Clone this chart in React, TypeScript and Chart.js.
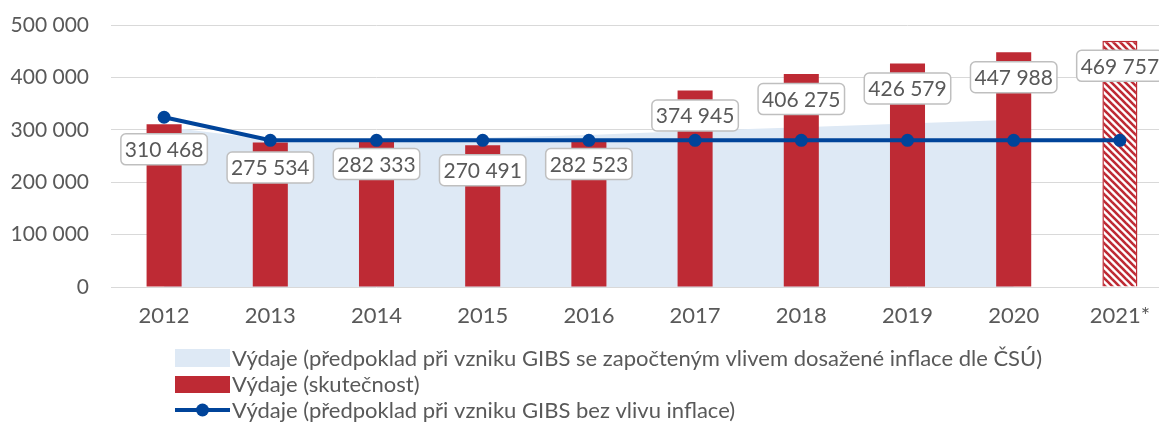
import React, { useEffect, useRef } from 'react';
import { Chart, registerables } from 'chart.js';

Chart.register(...registerables);

const categories = ['2012', '2013', '2014', '2015', '2016', '2017', '2018', '2019', '2020', '2021*'];
const actualSpending = [310468, 275534, 282333, 270491, 282523, 374945, 406275, 426579, 447988, 469757];
const forecastWithInflation = [306000, 281000, 283000, 285000, 290000, 298000, 305000, 312000, 319000, null];
const forecastNoInflation = [324000, 280000, 280000, 280000, 280000, 280000, 280000, 280000, 280000, 280000];
const yTickValues = [0, 100000, 200000, 300000, 400000, 500000];
const legendLabels = [
  'Výdaje (předpoklad při vzniku GIBS se započteným vlivem dosažené inflace dle ČSÚ)',
  'Výdaje (skutečnost)',
  'Výdaje (předpoklad při vzniku GIBS bez vlivu inflace)',
];

const RED = '#BE2A34';
const BLUE = '#00449A';
const AREA = '#DEE9F5';
const TEXT = '#595959';
const GRID = '#D9D9D9';
const FONT = 'Lato';

const fmt = (v: number) => {
  const s = Math.round(v).toString();
  return s.replace(/\B(?=(\d{3})+(?!\d))/g, ' ');
};

function makePattern(): CanvasPattern | string {
  const s = 7;
  const c = document.createElement('canvas');
  c.width = s;
  c.height = s;
  const g = c.getContext('2d');
  if (!g) return RED;
  g.fillStyle = '#ffffff';
  g.fillRect(0, 0, s, s);
  g.strokeStyle = RED;
  g.lineWidth = 2.6;
  for (let k = -1; k <= 1; k++) {
    g.beginPath();
    g.moveTo(k * s - 1, -1);
    g.lineTo(k * s + s + 1, s + 1);
    g.stroke();
  }
  const p = g.createPattern(c, 'repeat');
  return p || RED;
}

const labelPlugin = {
  id: 'barLabels',
  afterDatasetsDraw(chart: any) {
    const meta = chart.getDatasetMeta(1);
    const ctx = chart.ctx;
    ctx.save();
    ctx.font = `21px ${FONT}`;
    ctx.textAlign = 'center';
    ctx.textBaseline = 'middle';
    meta.data.forEach((el: any, i: number) => {
      const txt = fmt(actualSpending[i]);
      const w = ctx.measureText(txt).width + 8;
      const h = 31;
      const cx = el.x;
      const cy = el.y + 25;
      ctx.beginPath();
      ctx.roundRect(cx - w / 2, cy - h / 2, w, h, 5);
      ctx.fillStyle = '#ffffff';
      ctx.fill();
      ctx.lineWidth = 1.5;
      ctx.strokeStyle = '#BFBFBF';
      ctx.stroke();
      ctx.fillStyle = TEXT;
      ctx.fillText(txt, cx, cy + 1);
    });
    ctx.restore();
  },
};

const legendPlugin = {
  id: 'customLegend',
  afterDraw(chart: any) {
    const ctx = chart.ctx;
    ctx.save();
    ctx.font = `22px ${FONT}`;
    ctx.textBaseline = 'middle';
    ctx.textAlign = 'left';
    const x0 = 175;
    const x1 = 230;
    const rows = [358, 384, 410];
    ctx.fillStyle = AREA;
    ctx.fillRect(x0, rows[0] - 9, x1 - x0, 18);
    ctx.fillStyle = RED;
    ctx.fillRect(x0, rows[1] - 8, x1 - x0, 17);
    ctx.strokeStyle = BLUE;
    ctx.lineWidth = 4;
    ctx.beginPath();
    ctx.moveTo(x0, rows[2]);
    ctx.lineTo(x1, rows[2]);
    ctx.stroke();
    ctx.fillStyle = BLUE;
    ctx.beginPath();
    ctx.arc((x0 + x1) / 2, rows[2], 6.5, 0, Math.PI * 2);
    ctx.fill();
    ctx.fillStyle = TEXT;
    legendLabels.forEach((t, i) => ctx.fillText(t, x1 + 2, rows[i] + 1));
    ctx.restore();
  },
};

export default function App() {
  const ref = useRef<HTMLCanvasElement | null>(null);
  useEffect(() => {
    if (!ref.current) return;
    const pattern = makePattern();
    const last = actualSpending.length - 1;
    const chart = new Chart(ref.current, {
      type: 'bar',
      data: {
        labels: categories,
        datasets: [
          {
            type: 'line',
            label: legendLabels[0],
            data: forecastWithInflation,
            fill: 'origin',
            backgroundColor: AREA,
            borderWidth: 0,
            borderColor: 'rgba(0,0,0,0)',
            pointRadius: 0,
            order: 3,
            spanGaps: false,
          } as any,
          {
            type: 'bar',
            label: legendLabels[1],
            data: actualSpending,
            backgroundColor: (c: any) => (c.dataIndex === last ? pattern : RED),
            borderColor: RED,
            borderWidth: (c: any) => (c.dataIndex === last ? 1.5 : 0),
            categoryPercentage: 1,
            barPercentage: 0.33,
            order: 2,
          } as any,
          {
            type: 'line',
            label: legendLabels[2],
            data: forecastNoInflation,
            borderColor: BLUE,
            backgroundColor: BLUE,
            borderWidth: 4,
            pointRadius: 6.5,
            pointBackgroundColor: BLUE,
            pointBorderWidth: 0,
            fill: false,
            tension: 0,
            order: 1,
            clip: false,
          } as any,
        ],
      },
      options: {
        animation: false,
        responsive: false,
        maintainAspectRatio: false,
        devicePixelRatio: 1,
        layout: { autoPadding: false, padding: { top: 25, right: 0, bottom: 86, left: 0 } },
        plugins: {
          legend: { display: false },
          tooltip: { enabled: false },
        },
        scales: {
          x: {
            offset: true,
            grid: { display: false, drawTicks: false },
            border: { display: false },
            ticks: {
              color: TEXT,
              font: { family: FONT, size: 22 },
              padding: 16,
              maxRotation: 0,
              autoSkip: false,
            },
            afterFit: (s: any) => {
              s.height = 50;
              s.paddingLeft = 0;
              s.paddingRight = 0;
            },
          },
          y: {
            min: 0,
            max: 500000,
            grid: { color: GRID, lineWidth: 1, drawTicks: false },
            border: { display: false },
            afterBuildTicks: (s: any) => {
              s.ticks = yTickValues.map((v) => ({ value: v }));
            },
            ticks: {
              color: TEXT,
              font: { family: FONT, size: 21 },
              padding: 22,
              callback: (v: any) => fmt(Number(v)),
            },
            afterFit: (s: any) => {
              s.width = 111;
              s.paddingTop = 0;
              s.paddingBottom = 0;
            },
          },
        },
      },
      plugins: [labelPlugin, legendPlugin],
    });
    return () => chart.destroy();
  }, []);
  return (
    <div style={{ position: 'absolute', left: 0, top: 0, width: 1159, height: 423, overflow: 'hidden', background: '#fff' }}>
      <canvas ref={ref} width={1173} height={423} style={{ display: 'block' }} />
    </div>
  );
}
